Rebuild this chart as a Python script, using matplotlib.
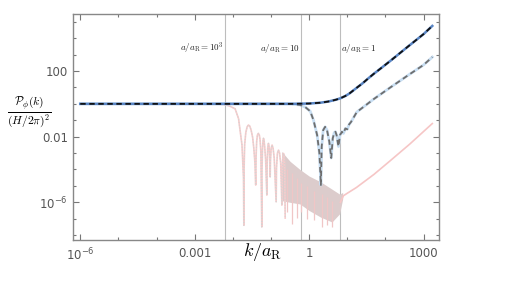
#!/usr/bin/env python3
# Power spectrum P_phi(k) vs k/a_R, log-log, Mathematica-like frame.

import matplotlib.pyplot as plt
import numpy as np
from matplotlib.ticker import FixedLocator, NullFormatter

plt.rcParams['mathtext.fontset'] = 'cm'

# --- data (log10 values) ---
# top curve: blue solid with black dashes
black_logk = [-6.0, -2.0, -0.5, 0.0, 0.3, 0.5, 0.7, 0.82, 0.95, 1.05, 1.15, 1.26, 1.4,
              1.55, 1.69, 1.9, 2.13, 2.57, 3.0, 3.23]
black_logp = [0.0, 0.0, 0.0, 0.02, 0.07, 0.14, 0.25, 0.34, 0.48, 0.62, 0.8, 1.0, 1.25,
              1.55, 1.82, 2.2, 2.62, 3.45, 4.25, 4.75]

# middle curve: light blue solid with gray dashes
gray_logk = [-6.0, -2.0, -0.5, -0.234, -0.1, 0.03, 0.116, 0.21, 0.27, 0.309, 0.33, 0.37,
             0.42, 0.47, 0.53, 0.58, 0.62, 0.66, 0.69, 0.72, 0.77, 0.81, 0.86, 0.9,
             0.95, 1.0, 1.05, 1.1, 1.25, 1.7, 2.13, 2.6, 3.0, 3.23]
gray_logp = [0.0, 0.0, 0.0, -0.07, -0.2, -0.45, -1.0, -1.9, -3.0, -4.95, -2.6, -1.6,
             -1.4, -1.6, -2.3, -3.3, -2.1, -1.75, -1.7, -1.9, -2.6, -1.9, -1.7, -1.8,
             -1.5, -1.55, -1.25, -1.1, -0.5, 0.3, 1.0, 1.75, 2.37, 2.85]

# bottom curve: pink solid with light gray dots (oscillating part)
pink_logk = [-6.0, -3.0, -2.4, -2.2, -2.07, -1.94, -1.85, -1.76, -1.72, -1.711,
             -1.705, -1.69, -1.66, -1.625, -1.59, -1.555, -1.52, -1.48, -1.45, -1.42, -1.40,
             -1.39, -1.375, -1.355, -1.33, -1.305, -1.285, -1.265, -1.24,
             -1.235, -1.222, -1.21, -1.197, -1.183, -1.165, -1.14, -1.108,
             -1.10, -1.085, -1.066, -1.05, -1.035, -1.021,
             -1.012, -0.995, -0.97, -0.945, -0.915, -0.864,
             -0.855, -0.83, -0.803, -0.775, -0.745, -0.714,
             -0.705, -0.69, -0.672, -0.655, -0.64, -0.627]
pink_logp = [0.0, 0.0, -0.01, -0.05, -0.15, -0.3, -0.9, -2.5, -4.5, -7.4,
             -4.0, -2.5, -1.75, -1.4, -1.29, -1.36, -1.6, -2.05, -2.7, -3.6, -4.95,
             -3.2, -2.3, -1.9, -1.8, -1.9, -2.2, -2.9, -7.5,
             -4.0, -2.8, -2.3, -2.1, -2.2, -2.6, -3.4, -5.56,
             -3.6, -2.7, -2.41, -2.6, -3.2, -4.45,
             -3.4, -2.7, -2.51, -2.7, -3.3, -5.97,
             -3.9, -3.0, -2.82, -3.0, -3.6, -6.17,
             -4.2, -3.3, -3.02, -3.2, -3.9, -6.96]

# noisy band (envelope) of the pink curve
band_logk = [-0.72, -0.5, -0.24, 0.0, 0.3, 0.6, 0.8, 0.88]
band_top = [-2.9, -3.5, -4.0, -4.4, -4.75, -5.2, -5.5, -5.4]
band_bot = [-5.9, -6.0, -6.1, -6.5, -6.9, -7.2, -6.7, -5.8]

# downward spikes inside the band (from top to bottom value)
spike_logk = [-0.58, -0.45, -0.33, -0.2, -0.05, 0.12, 0.33, 0.46, 0.6]
spike_top = [-4.0, -4.2, -4.5, -4.8, -5.0, -5.3, -5.5, -5.7, -5.9]
spike_logp = [-6.6, -7.3, -6.97, -6.6, -7.0, -7.1, -7.5, -7.4, -7.5]

# rising tail of the pink curve
tail_logk = [0.82, 0.9, 1.0, 1.24, 1.7, 2.11, 2.64, 3.23]
tail_logp = [-6.0, -5.6, -5.45, -5.1, -4.3, -3.5, -2.45, -1.2]

# horizon crossing lines and their labels
vline_logk = [-2.2, -0.2, 0.8]
vline_text = [r'$a/a_\mathrm{R}=10^3$', r'$a/a_\mathrm{R}=10$', r'$a/a_\mathrm{R}=1$']

xtick_logk = [-6, -3, 0, 3]
xtick_text = [r'$\mathregular{10^{-6}}$', '0.001', '1', '1000']
ytick_logp = [-6, -2, 2]
ytick_text = [r'$\mathregular{10^{-6}}$', '0.01', '100']

p10 = lambda v: 10.0 ** np.asarray(v)

fig = plt.figure(figsize=(5.12, 2.88), dpi=100)
ax = fig.add_axes([0.1426, 0.1677, 0.857 - 0.1426, 0.951 - 0.1677])
ax.set_xscale('log')
ax.set_yscale('log')

for lk in vline_logk:
    ax.axvline(p10(lk), color='#bdbdbd', lw=0.8, zorder=1)

# pink curve
ax.fill_between(p10(band_logk), p10(band_bot), p10(band_top), color='#dccccc',
                lw=0, zorder=2)
ax.vlines(p10(spike_logk), p10(spike_top), p10(spike_logp), color='#f0c6c6', lw=0.9, zorder=2)
ax.plot(p10(pink_logk), p10(pink_logp), color='#f7cccc', lw=1.2, zorder=3)
ax.plot(p10(pink_logk), p10(pink_logp), color='#d4d4d4', lw=0.8, ls=(0, (1, 1.5)), zorder=3)
ax.plot(p10(tail_logk), p10(tail_logp), color='#f6c6c6', lw=1.2, zorder=3)

# middle curve
ax.plot(p10(gray_logk), p10(gray_logp), color='#c8def2', lw=2.0, zorder=4)
ax.plot(p10(gray_logk), p10(gray_logp), color='#6e6e6e', lw=1.3, ls=(0, (3, 2)), zorder=5)

# top curve
ax.plot(p10(black_logk), p10(black_logp), color='#5a86c5', lw=1.8, zorder=6)
ax.plot(p10(black_logk), p10(black_logp), color='#111111', lw=1.3, ls=(0, (3, 2)), zorder=7)

for lk, txt, ha in zip(vline_logk, vline_text, ['right', 'right', 'left']):
    dx = 0.9 if ha == 'right' else 1.12
    ax.text(p10(lk) * dx, p10(3.4), txt, ha=ha, va='center', fontsize=6.5, color='#222222')

ax.set_xlim(p10(-6.19), p10(3.40))
ax.set_ylim(p10(-8.28), p10(5.47))

ax.xaxis.set_major_locator(FixedLocator(p10(xtick_logk)))
ax.xaxis.set_minor_locator(FixedLocator(p10(np.arange(-6, 4))))
ax.xaxis.set_minor_formatter(NullFormatter())
ax.set_xticklabels(xtick_text)
ax.yaxis.set_major_locator(FixedLocator(p10(ytick_logp)))
ax.yaxis.set_minor_locator(FixedLocator(p10(np.arange(-8, 6))))
ax.yaxis.set_minor_formatter(NullFormatter())
ax.set_yticklabels(ytick_text)

ax.tick_params(which='both', direction='in', top=True, right=True, color='#777777',
               labelsize=8.5, labelcolor='#555555', width=0.8)
ax.tick_params(which='major', length=4)
ax.tick_params(which='minor', length=2.5)
ax.tick_params(axis='x', pad=5)
for s in ax.spines.values():
    s.set_color('#888888')
    s.set_linewidth(1.0)

fig.text(0.512, 0.125, r'$k/a_\mathrm{R}$', ha='center', va='center', fontsize=13)
fig.text(0.058, 0.61, r'$\frac{\mathcal{P}_\phi(k)}{(H/2\pi)^2}$', ha='center', va='center',
         fontsize=12)

fig.savefig('out.png', dpi=100)
